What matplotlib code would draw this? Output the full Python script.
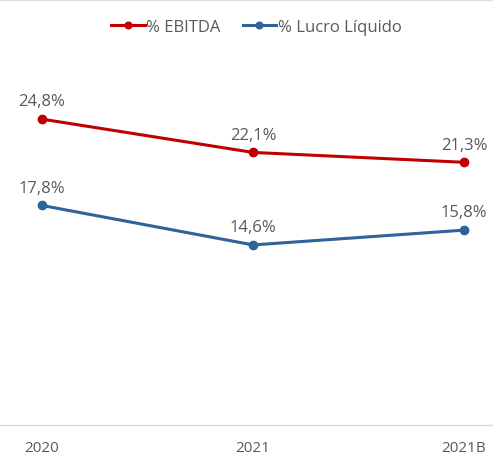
import matplotlib.pyplot as plt
from matplotlib.lines import Line2D

# data
categories = ['2020', '2021', '2021B']
ebitda = [24.8, 22.1, 21.3]
lucro = [17.8, 14.6, 15.8]
ebitda_labels = ['24,8%', '22,1%', '21,3%']
lucro_labels = ['17,8%', '14,6%', '15,8%']

red = '#C00000'
blue = '#2F6399'
gray = '#595959'

plt.rcParams['font.family'] = ['Open Sans', 'DejaVu Sans']

fig = plt.figure(figsize=(4.93, 4.56), dpi=100)
ax = fig.add_axes([0, 1 - 426 / 456, 1, (426 - 56) / 456])

x = list(range(len(categories)))
ax.plot(x, ebitda, color=red, lw=2.2, marker='o', ms=6, label='% EBITDA')
ax.plot(x, lucro, color=blue, lw=2.2, marker='o', ms=6, label='% Lucro Líquido')

for i in x:
    ax.annotate(ebitda_labels[i], (i, ebitda[i]), xytext=(0, 7), textcoords='offset points',
                ha='center', va='bottom', fontsize=12, color=gray)
    ax.annotate(lucro_labels[i], (i, lucro[i]), xytext=(0, 7), textcoords='offset points',
                ha='center', va='bottom', fontsize=12, color=gray)

ax.set_xlim(-0.199, 2.137)
ax.set_ylim(0, 30)
ax.set_xticks(x)
ax.set_xticklabels(categories, fontsize=11, color=gray)
ax.tick_params(axis='x', length=0, pad=11)
ax.set_yticks([])
for s in ['top', 'left', 'right']:
    ax.spines[s].set_visible(False)
ax.spines['bottom'].set_color('#D9D9D9')
ax.spines['bottom'].set_linewidth(1)

fig.legend(loc='upper center', bbox_to_anchor=(0.52, 0.99), ncol=2, frameon=False,
           fontsize=12, labelcolor=gray, handlelength=2.0, handletextpad=0.1,
           columnspacing=1.3, markerscale=0.8)

# thin border line at the very top
fig.add_artist(Line2D([0, 1], [0.997, 0.997], color='#E0E0E0', lw=1, transform=fig.transFigure))

fig.savefig('out.png', dpi=100)
